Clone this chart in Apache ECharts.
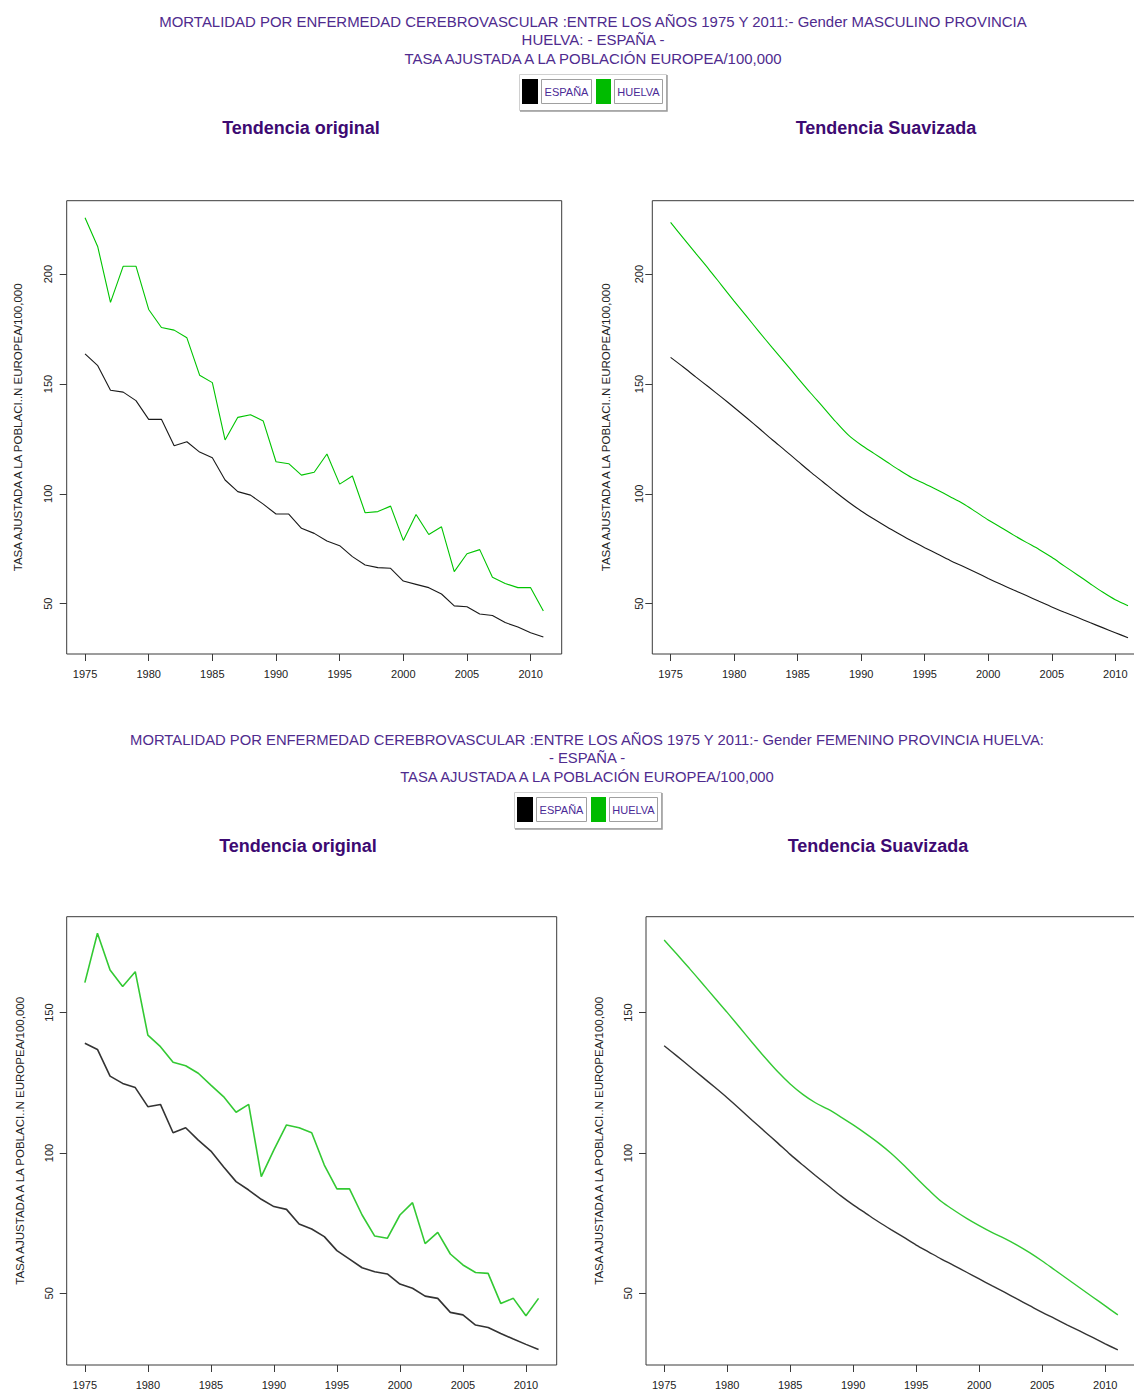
<!DOCTYPE html>
<html>
<head>
<meta charset="utf-8">
<script src="https://cdn.jsdelivr.net/npm/echarts@6/dist/echarts.min.js"></script>
<style>
  html, body { margin: 0; padding: 0; background: #ffffff; }
  #chart { width: 1134px; height: 1391px; }
</style>
</head>
<body>
<div id="chart"></div>
<script>
// Years of the series
const years = [1975, 1976, 1977, 1978, 1979, 1980, 1981, 1982, 1983, 1984, 1985, 1986, 1987, 1988, 1989,
  1990, 1991, 1992, 1993, 1994, 1995, 1996, 1997, 1998, 1999, 2000, 2001, 2002, 2003, 2004, 2005,
  2006, 2007, 2008, 2009, 2010, 2011];

// Tick labels
const xTicks = [1975, 1980, 1985, 1990, 1995, 2000, 2005, 2010];
const yTicksMasc = [50, 100, 150, 200];
const yTicksFem = [50, 100, 150];

// Men: adjusted rate, observed
const espanaMascOriginal = [163.7, 158.3, 147.1, 146.3, 142.4, 133.9, 133.9, 121.9, 123.7, 119.0, 116.4,
  106.3, 101.0, 99.4, 95.3, 90.8, 90.8, 84.3, 82.0, 78.5, 76.4, 71.4, 67.6, 66.4, 66.1, 60.3, 58.8,
  57.3, 54.4, 49.0, 48.6, 45.3, 44.6, 41.4, 39.4, 36.8, 34.8];
const huelvaMascOriginal = [225.6, 212.4, 187.1, 203.6, 203.6, 183.9, 175.7, 174.5, 171.0, 154.0, 150.6,
  124.5, 134.8, 136.0, 133.1, 114.6, 113.7, 108.5, 109.8, 118.1, 104.4, 108.1, 91.4, 91.9, 94.4, 78.8,
  90.6, 81.5, 85.0, 64.6, 72.7, 74.6, 62.0, 59.2, 57.3, 57.3, 46.7];

// Men: smoothed trend
const espanaMascSuavizada = [162.1, 157.7, 153.1, 148.6, 144.0, 139.3, 134.5, 129.6, 124.6, 119.8, 114.9,
  110.0, 105.4, 100.7, 96.3, 92.2, 88.5, 85.0, 81.7, 78.5, 75.5, 72.6, 69.7, 67.0, 64.3, 61.5, 58.8,
  56.2, 53.7, 51.1, 48.5, 46.1, 43.8, 41.4, 39.1, 36.8, 34.5];
const huelvaMascSuavizada = [223.5, 216.4, 209.3, 202.3, 195.0, 187.7, 180.6, 173.5, 166.5, 159.7, 152.8,
  146.0, 139.5, 132.8, 126.7, 122.2, 118.4, 114.6, 110.8, 107.3, 104.6, 101.7, 98.7, 95.6, 91.9, 88.1,
  84.7, 81.2, 77.9, 74.7, 71.1, 67.1, 63.2, 59.2, 55.3, 51.8, 49.1];

// Women: adjusted rate, observed
const espanaFemOriginal = [139.1, 136.9, 127.4, 124.8, 123.3, 116.5, 117.3, 107.2, 109.0, 104.6, 100.7,
  95.1, 89.8, 86.8, 83.5, 80.9, 79.9, 74.7, 72.9, 70.2, 65.2, 62.2, 59.1, 57.7, 56.9, 53.3, 51.8,
  49.0, 48.2, 43.2, 42.3, 38.7, 37.8, 35.7, 33.7, 31.8, 30.0];
const huelvaFemOriginal = [160.7, 178.3, 165.2, 159.3, 164.6, 142.0, 137.9, 132.3, 131.1, 128.4, 124.2,
  120.1, 114.5, 117.3, 91.6, 101.1, 110.0, 109.0, 107.2, 95.7, 87.2, 87.2, 77.9, 70.4, 69.6, 77.9,
  82.3, 67.7, 71.7, 64.0, 60.1, 57.4, 57.1, 46.4, 48.2, 42.0, 48.2];

// Women: smoothed trend
const espanaFemSuavizada = [138.2, 134.6, 130.9, 127.2, 123.5, 119.7, 115.7, 111.6, 107.6, 103.6, 99.5,
  95.7, 92.0, 88.4, 84.8, 81.5, 78.5, 75.5, 72.7, 70.0, 67.2, 64.7, 62.2, 59.9, 57.5, 55.1, 52.7,
  50.4, 48.0, 45.6, 43.2, 41.0, 38.7, 36.5, 34.3, 32.0, 29.8];
const huelvaFemSuavizada = [175.9, 170.9, 165.8, 160.6, 155.3, 150.1, 144.7, 139.3, 134.0, 129.0, 124.6,
  120.9, 117.9, 115.6, 112.9, 110.0, 106.9, 103.6, 99.9, 95.7, 91.2, 86.8, 82.7, 79.6, 76.7, 74.1,
  71.7, 69.6, 67.2, 64.5, 61.5, 58.3, 55.1, 51.9, 48.7, 45.5, 42.3];

// Texts
const titleMasc = [
  'MORTALIDAD POR ENFERMEDAD CEREBROVASCULAR :ENTRE LOS AÑOS 1975 Y 2011:- Gender MASCULINO PROVINCIA',
  'HUELVA: - ESPAÑA -',
  'TASA AJUSTADA A LA POBLACIÓN EUROPEA/100,000'
];
const titleFem = [
  'MORTALIDAD POR ENFERMEDAD CEREBROVASCULAR :ENTRE LOS AÑOS 1975 Y 2011:- Gender FEMENINO PROVINCIA HUELVA:',
  '- ESPAÑA -',
  'TASA AJUSTADA A LA POBLACIÓN EUROPEA/100,000'
];
const legendNames = ['ESPAÑA', 'HUELVA'];
const panelNames = ['Tendencia original', 'Tendencia Suavizada'];
const yName = 'TASA AJUSTADA A LA POBLACI..N EUROPEA/100,000';

const FONT = '"Liberation Sans", Arial, sans-serif';
const TITLE_COLOR = '#4f2b8e';
const PANEL_COLOR = '#3d0a72';
const BLACK = '#1a1a1a';
const GREEN = '#00c400';
const BOX = '#3a3a3a';

const chart = echarts.init(document.getElementById('chart'), null, { renderer: 'svg' });

// Plot frames (R-style boxed panels)
const frames = [
  { left: 66.7, top: 200.7, width: 495, height: 453.3 },
  { left: 652.3, top: 200.7, width: 494, height: 453.3 },
  { left: 66.7, top: 916.7, width: 490, height: 448.3 },
  { left: 646, top: 916.7, width: 490, height: 448.3 }
];
const yRanges = [[27.1, 233.4], [27.1, 233.4], [24.45, 184.2], [24.45, 184.2]];
const yTicks = [yTicksMasc, yTicksMasc, yTicksFem, yTicksFem];
const yLabelMargin = [13, 8, 12, 13];
const yNameGap = [43, 40, 41, 41];

const plain = v => String(v);

const grids = frames.map(f => Object.assign({
  show: true, borderColor: BOX, borderWidth: 1, backgroundColor: 'transparent',
  containLabel: false, outerBoundsMode: 'none'
}, f));

const xAxes = frames.map((f, i) => ({
  type: 'value', gridIndex: i, min: 1973.56, max: 2012.44,
  axisLine: { show: false, onZero: false },
  axisTick: { show: true, customValues: xTicks, length: 7, inside: false, lineStyle: { color: BOX, width: 1 } },
  axisLabel: { customValues: xTicks, formatter: plain, margin: 14, fontSize: 11, fontFamily: FONT, color: '#222' },
  splitLine: { show: false }
}));

const yAxes = frames.map((f, i) => ({
  type: 'value', gridIndex: i, min: yRanges[i][0], max: yRanges[i][1],
  name: yName, nameLocation: 'middle', nameRotate: 90, nameGap: yNameGap[i],
  nameTextStyle: { fontSize: 11.5, fontFamily: FONT, color: '#222' },
  axisLine: { show: false, onZero: false },
  axisTick: { show: true, customValues: yTicks[i], length: 7, inside: false, lineStyle: { color: BOX, width: 1 } },
  axisLabel: { customValues: yTicks[i], formatter: plain, rotate: 90, margin: yLabelMargin[i], fontSize: 11, fontFamily: FONT, color: '#222' },
  splitLine: { show: false }
}));

const toPoints = arr => years.map((yr, i) => [yr, arr[i]]);

function lineSeries(name, arr, idx, color, width, smooth) {
  return {
    name: name, type: 'line', xAxisIndex: idx, yAxisIndex: idx,
    data: toPoints(arr), showSymbol: false, symbol: 'none', smooth: smooth,
    lineStyle: { color: color, width: width }, silent: true, animation: false
  };
}

const series = [
  lineSeries('ESPAÑA', espanaMascOriginal, 0, BLACK, 1.1, false),
  lineSeries('HUELVA', huelvaMascOriginal, 0, GREEN, 1.1, false),
  lineSeries('ESPAÑA', espanaMascSuavizada, 1, BLACK, 1.1, 0.3),
  lineSeries('HUELVA', huelvaMascSuavizada, 1, GREEN, 1.1, 0.3),
  lineSeries('ESPAÑA', espanaFemOriginal, 2, '#333333', 1.6, false),
  lineSeries('HUELVA', huelvaFemOriginal, 2, '#33c933', 1.6, false),
  lineSeries('ESPAÑA', espanaFemSuavizada, 3, '#333333', 1.4, 0.3),
  lineSeries('HUELVA', huelvaFemSuavizada, 3, '#33c933', 1.4, 0.3)
];

// Header text, legend boxes and panel captions
function textEl(str, x, y, size, color, weight) {
  return {
    type: 'text', x: x, y: y, silent: true,
    style: {
      text: str, align: 'center', verticalAlign: 'middle',
      fontSize: size, fontFamily: FONT, fontWeight: weight || 'normal', fill: color
    }
  };
}

function legendBlock(x0, y0) {
  const els = [];
  // outer framed cell
  els.push({ type: 'rect', silent: true, shape: { x: x0 + 0.5, y: y0 + 0.5, width: 147, height: 36 },
    style: { fill: '#ffffff', stroke: '#d0d0d0', lineWidth: 1 } });
  els.push({ type: 'polyline', silent: true,
    shape: { points: [[x0 + 1, y0 + 37], [x0 + 148, y0 + 37], [x0 + 148, y0 + 1]] },
    style: { stroke: '#9a9a9a', lineWidth: 1.5, fill: null } });
  // swatches
  els.push({ type: 'rect', silent: true, shape: { x: x0 + 3, y: y0 + 5, width: 16, height: 25 },
    style: { fill: '#000000' } });
  els.push({ type: 'rect', silent: true, shape: { x: x0 + 77, y: y0 + 5, width: 15, height: 25 },
    style: { fill: '#00bb00' } });
  // name cells
  els.push({ type: 'rect', silent: true, shape: { x: x0 + 22.5, y: y0 + 5.5, width: 50, height: 24 },
    style: { fill: '#ffffff', stroke: '#a0a0a0', lineWidth: 1 } });
  els.push({ type: 'rect', silent: true, shape: { x: x0 + 95.5, y: y0 + 5.5, width: 48, height: 24 },
    style: { fill: '#ffffff', stroke: '#a0a0a0', lineWidth: 1 } });
  els.push(textEl(legendNames[0], x0 + 47.5, y0 + 18, 11, '#4a2a96'));
  els.push(textEl(legendNames[1], x0 + 119.5, y0 + 18, 11, '#4a2a96'));
  return els;
}

const graphics = [].concat(
  [textEl(titleMasc[0], 593, 21, 14.95, TITLE_COLOR),
   textEl(titleMasc[1], 593, 39.5, 14.95, TITLE_COLOR),
   textEl(titleMasc[2], 593, 58, 14.95, TITLE_COLOR)],
  legendBlock(519, 74),
  [textEl(panelNames[0], 301, 128, 18, PANEL_COLOR, 'bold'),
   textEl(panelNames[1], 886, 128, 18, PANEL_COLOR, 'bold')],
  [textEl(titleFem[0], 587, 739.5, 14.8, TITLE_COLOR),
   textEl(titleFem[1], 587, 758, 14.8, TITLE_COLOR),
   textEl(titleFem[2], 587, 776.5, 14.8, TITLE_COLOR)],
  legendBlock(514, 792),
  [textEl(panelNames[0], 298, 846, 18, PANEL_COLOR, 'bold'),
   textEl(panelNames[1], 878, 846, 18, PANEL_COLOR, 'bold')]
);

chart.setOption({
  animation: false,
  backgroundColor: '#ffffff',
  grid: grids,
  xAxis: xAxes,
  yAxis: yAxes,
  series: series,
  graphic: { elements: graphics }
});
</script>
</body>
</html>
